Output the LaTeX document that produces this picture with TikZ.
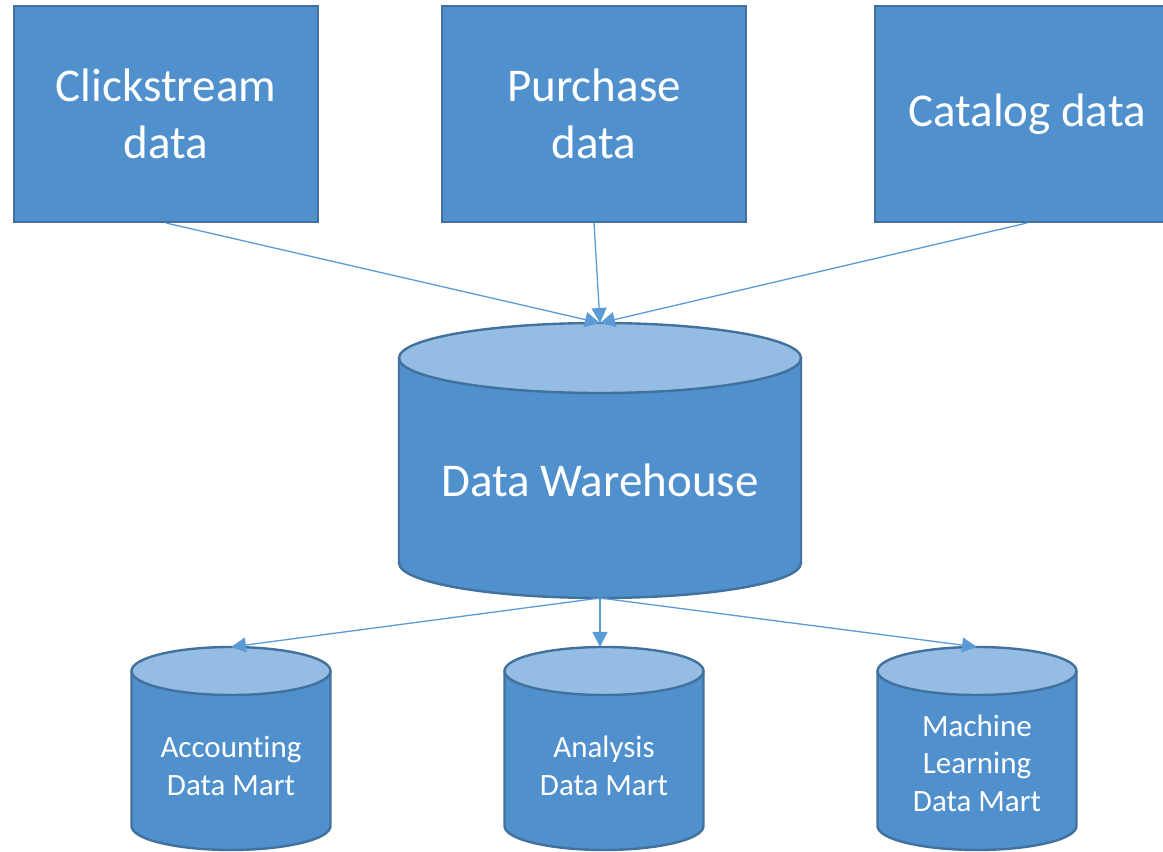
\documentclass[tikz,border=0pt]{standalone}
\usepackage{fontspec}
\setmainfont{Carlito}[Ligatures={NoCommon, NoRare}]
\usetikzlibrary{arrows.meta, positioning}

\definecolor{boxblue}{HTML}{4F90CD}
\definecolor{capblue}{HTML}{95BCE3}
\definecolor{edgeblue}{HTML}{41719C}
\definecolor{linkblue}{HTML}{5B9BD5}

% cylinder: name, x, top y, bottom y, x radius, y radius
\newcommand{\dbcyl}[6]{%
  \fill[boxblue] ({#2-#5},#3) -- ({#2-#5},#4)
    arc[start angle=180, end angle=360, x radius=#5pt, y radius=#6pt] -- ({#2+#5},#3) -- cycle;
  \draw[cyledge] ({#2-#5},#3) -- ({#2-#5},#4)
    arc[start angle=180, end angle=360, x radius=#5pt, y radius=#6pt] -- ({#2+#5},#3);
  \filldraw[cyledge, fill=capblue] (#2,#3) ellipse[x radius=#5pt, y radius=#6pt];
  \coordinate (#1-top) at (#2,{#3+#6});
  \coordinate (#1-bot) at (#2,{#4-#6});
}

\tikzset{
  srcbox/.style={draw=edgeblue, line width=2pt, fill=boxblue, text=white,
    minimum width=304pt, minimum height=216pt, align=center,
    font=\fontsize{47pt}{57pt}\selectfont},
  cyledge/.style={draw=edgeblue, line width=2.4pt},
  dwtext/.style={text=white, font=\fontsize{47pt}{57pt}\selectfont},
  marttext/.style={text=white, align=center, font=\fontsize{31pt}{37.5pt}\selectfont},
  link/.style={draw=linkblue, line width=1.3pt, -{Triangle[length=15pt, width=15pt]}}
}

\begin{document}
\begin{tikzpicture}[x=1pt, y=1pt]
\useasboundingbox (0,0) rectangle (1163,852);

% Source boxes
\node[srcbox] (click) at (166,738) {Clickstream\\data};
\node[srcbox] (buy) at (594,738) {Purchase\\data};
\node[srcbox] (cat) at (1027,738) {Catalog data};

% Warehouse
\dbcyl{dw}{600}{494}{289}{201}{35}
\node[dwtext] (dw) at (600,372) {Data Warehouse};

% Data marts
\foreach \x/\name/\txt/\ty in {231/acc/{Accounting\\Data Mart}/86,
    604/ana/{Analysis\\Data Mart}/86, 977/ml/{Machine\\Learning\\Data Mart}/89} {
  \dbcyl{\name}{\x}{181}{26}{99.5}{24}
  \node[marttext] (\name) at (\x,\ty) {\txt};
}

% Loading
\draw[link] (click.south) -- (dw-top);
\draw[link] (buy.south) -- (dw-top);
\draw[link] (cat.south) -- (dw-top);

% Feeding the marts
\draw[link] (dw-bot) -- (acc-top);
\draw[link] (dw-bot) -- (dw-bot |- ana-top);
\draw[link] (dw-bot) -- (ml-top);
\end{tikzpicture}
\end{document}
